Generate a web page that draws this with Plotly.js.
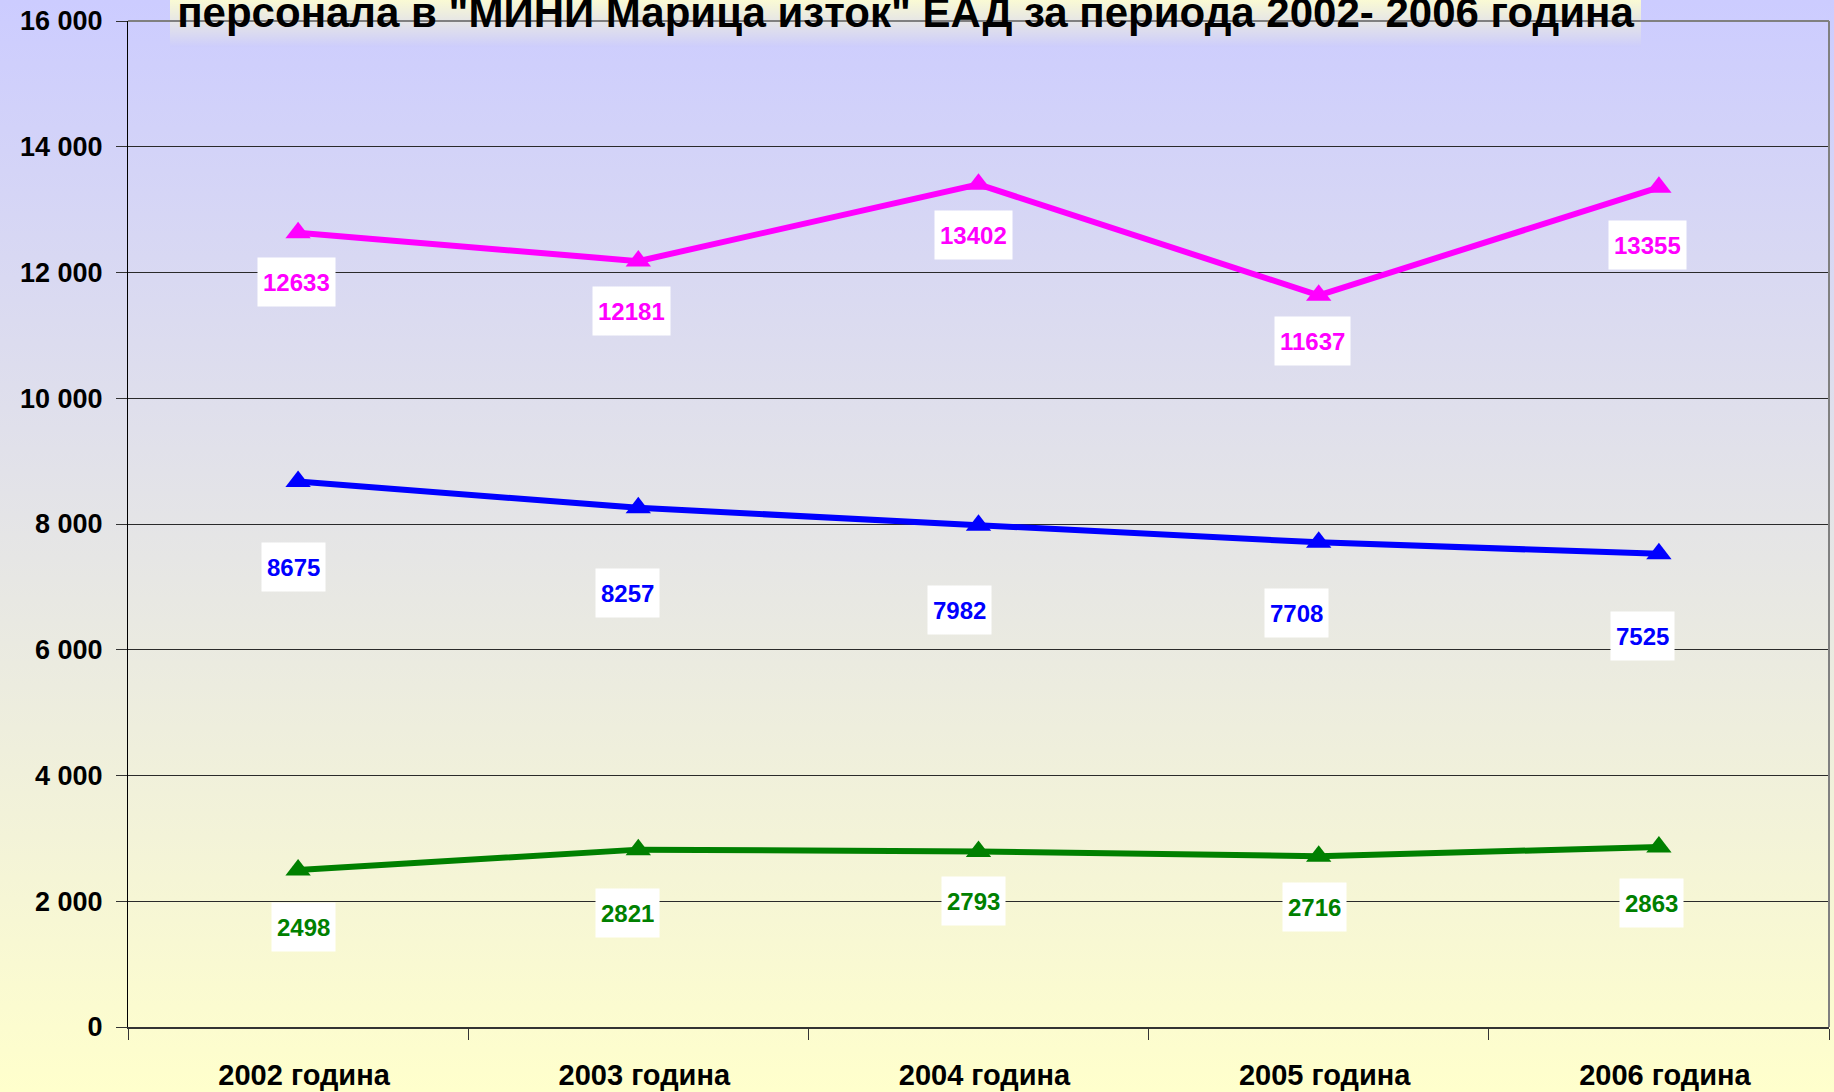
<!DOCTYPE html>
<html>
<head>
<meta charset="utf-8">
<script src="https://cdn.plot.ly/plotly-3.0.1.min.js"></script>
<style>
  html, body { margin: 0; padding: 0; }
  body { width: 1834px; height: 1092px; background: linear-gradient(to bottom, #CCCCFF 0%, #FFFFCC 100%); overflow: hidden; }
  #chart { width: 1834px; height: 1092px; }
</style>
</head>
<body>
<div id="chart"></div>
<script>
// ---- data ----
const categories = ["2002 година", "2003 година", "2004 година", "2005 година", "2006 година"];
const seriesMagenta = [12633, 12181, 13402, 11637, 13355];
const seriesBlue = [8675, 8257, 7982, 7708, 7525];
const seriesGreen = [2498, 2821, 2793, 2716, 2863];
const yTicks = [0, 2000, 4000, 6000, 8000, 10000, 12000, 14000, 16000];
const titleText = 'персонала в "МИНИ Марица изток" ЕАД за периода 2002- 2006 година';

// ---- label offsets (pixels, style only) ----
const offMagenta = [[-2, 49], [-7, 50], [-5, 51], [-6, 46], [-11, 58]];
const offBlue = [[-5, 85], [-11, 85], [-19, 85], [-22, 71], [-16, 82]];
const offGreen = [[5, 57], [-11, 63], [-5, 50], [-4, 51], [-7, 56]];

const FONT = '"Liberation Sans", Arial, sans-serif';

function trace(vals, color) {
  return {
    type: 'scatter', mode: 'lines+markers',
    x: categories, y: vals,
    line: { color: color, width: 6 },
    marker: { symbol: 'triangle-up', size: 22, color: color },
    hoverinfo: 'skip', showlegend: false, cliponaxis: false
  };
}

function labels(vals, color, offs) {
  return vals.map((v, i) => ({
    x: categories[i], y: v, xref: 'x', yref: 'y',
    text: String(v), showarrow: false,
    xshift: offs[i][0], yshift: -offs[i][1],
    bgcolor: '#FFFFFF', borderpad: 5, height: 38,
    font: { family: FONT, size: 24, color: color, weight: 'bold' }
  }));
}

const titleBox = 'data:image/svg+xml;utf8,' + encodeURIComponent(
  '<svg xmlns="http://www.w3.org/2000/svg" width="100" height="100" preserveAspectRatio="none">' +
  '<defs><linearGradient id="g" x1="0" y1="0" x2="0" y2="1">' +
  '<stop offset="0" stop-color="#FAFAD4"/><stop offset="1" stop-color="#CDCDFC"/></linearGradient></defs>' +
  '<rect width="100" height="100" fill="url(#g)"/></svg>');

const W = 1834, H = 1092;

const layout = {
  width: W, height: H,
  paper_bgcolor: 'rgba(0,0,0,0)', plot_bgcolor: 'rgba(0,0,0,0)',
  margin: { l: 128, r: 5, t: 21, b: 65, pad: 0 },
  separators: ', ',
  font: { family: FONT, color: '#000000' },
  title: {
    text: titleText,
    font: { family: FONT, size: 42, color: '#000000', weight: 'bold' },
    xref: 'paper', x: (905.5 - 128) / (W - 133), xanchor: 'center',
    yref: 'container', y: 1 - 12 / H, yanchor: 'middle'
  },
  xaxis: {
    type: 'category', range: [-0.5, 4.5],
    showline: true, linecolor: '#333333', linewidth: 2,
    ticks: 'outside', tickson: 'boundaries', ticklen: 11, tickcolor: '#333333', tickwidth: 1,
    showgrid: false, zeroline: false,
    tickfont: { family: FONT, size: 29, color: '#000000', weight: 'bold' },
    ticklabelstandoff: 21, ticklabelshift: 6, fixedrange: true
  },
  yaxis: {
    range: [0, 16000], tickvals: yTicks, tickformat: ',d',
    showline: true, linecolor: '#000000', linewidth: 1,
    ticks: 'outside', ticklen: 11, tickcolor: '#333333', tickwidth: 1,
    showgrid: true, gridcolor: '#2a2a2a', gridwidth: 1,
    zeroline: false,
    tickfont: { family: FONT, size: 27, color: '#000000', weight: 'bold' },
    ticklabelstandoff: 8, fixedrange: true
  },
  shapes: [
    { type: 'line', xref: 'paper', yref: 'paper', x0: 0, x1: 1, y0: 1, y1: 1, line: { color: '#808080', width: 2 } },
    { type: 'line', xref: 'paper', yref: 'paper', x0: 1, x1: 1, y0: 0, y1: 1, line: { color: '#808080', width: 2 } }
  ],
  images: [{
    source: titleBox, xref: 'paper', yref: 'paper',
    x: (170 - 128) / (W - 133), y: 1 + 21 / (H - 86),
    sizex: (1641 - 170) / (W - 133), sizey: 47 / (H - 86),
    xanchor: 'left', yanchor: 'top', sizing: 'stretch', layer: 'above'
  }],
  annotations: [].concat(
    labels(seriesMagenta, '#FF00FF', offMagenta),
    labels(seriesBlue, '#0000FF', offBlue),
    labels(seriesGreen, '#008000', offGreen)
  )
};

Plotly.newPlot('chart', [
  trace(seriesGreen, '#008000'),
  trace(seriesBlue, '#0000FF'),
  trace(seriesMagenta, '#FF00FF')
], layout, { displayModeBar: false, staticPlot: true });
</script>
</body>
</html>
